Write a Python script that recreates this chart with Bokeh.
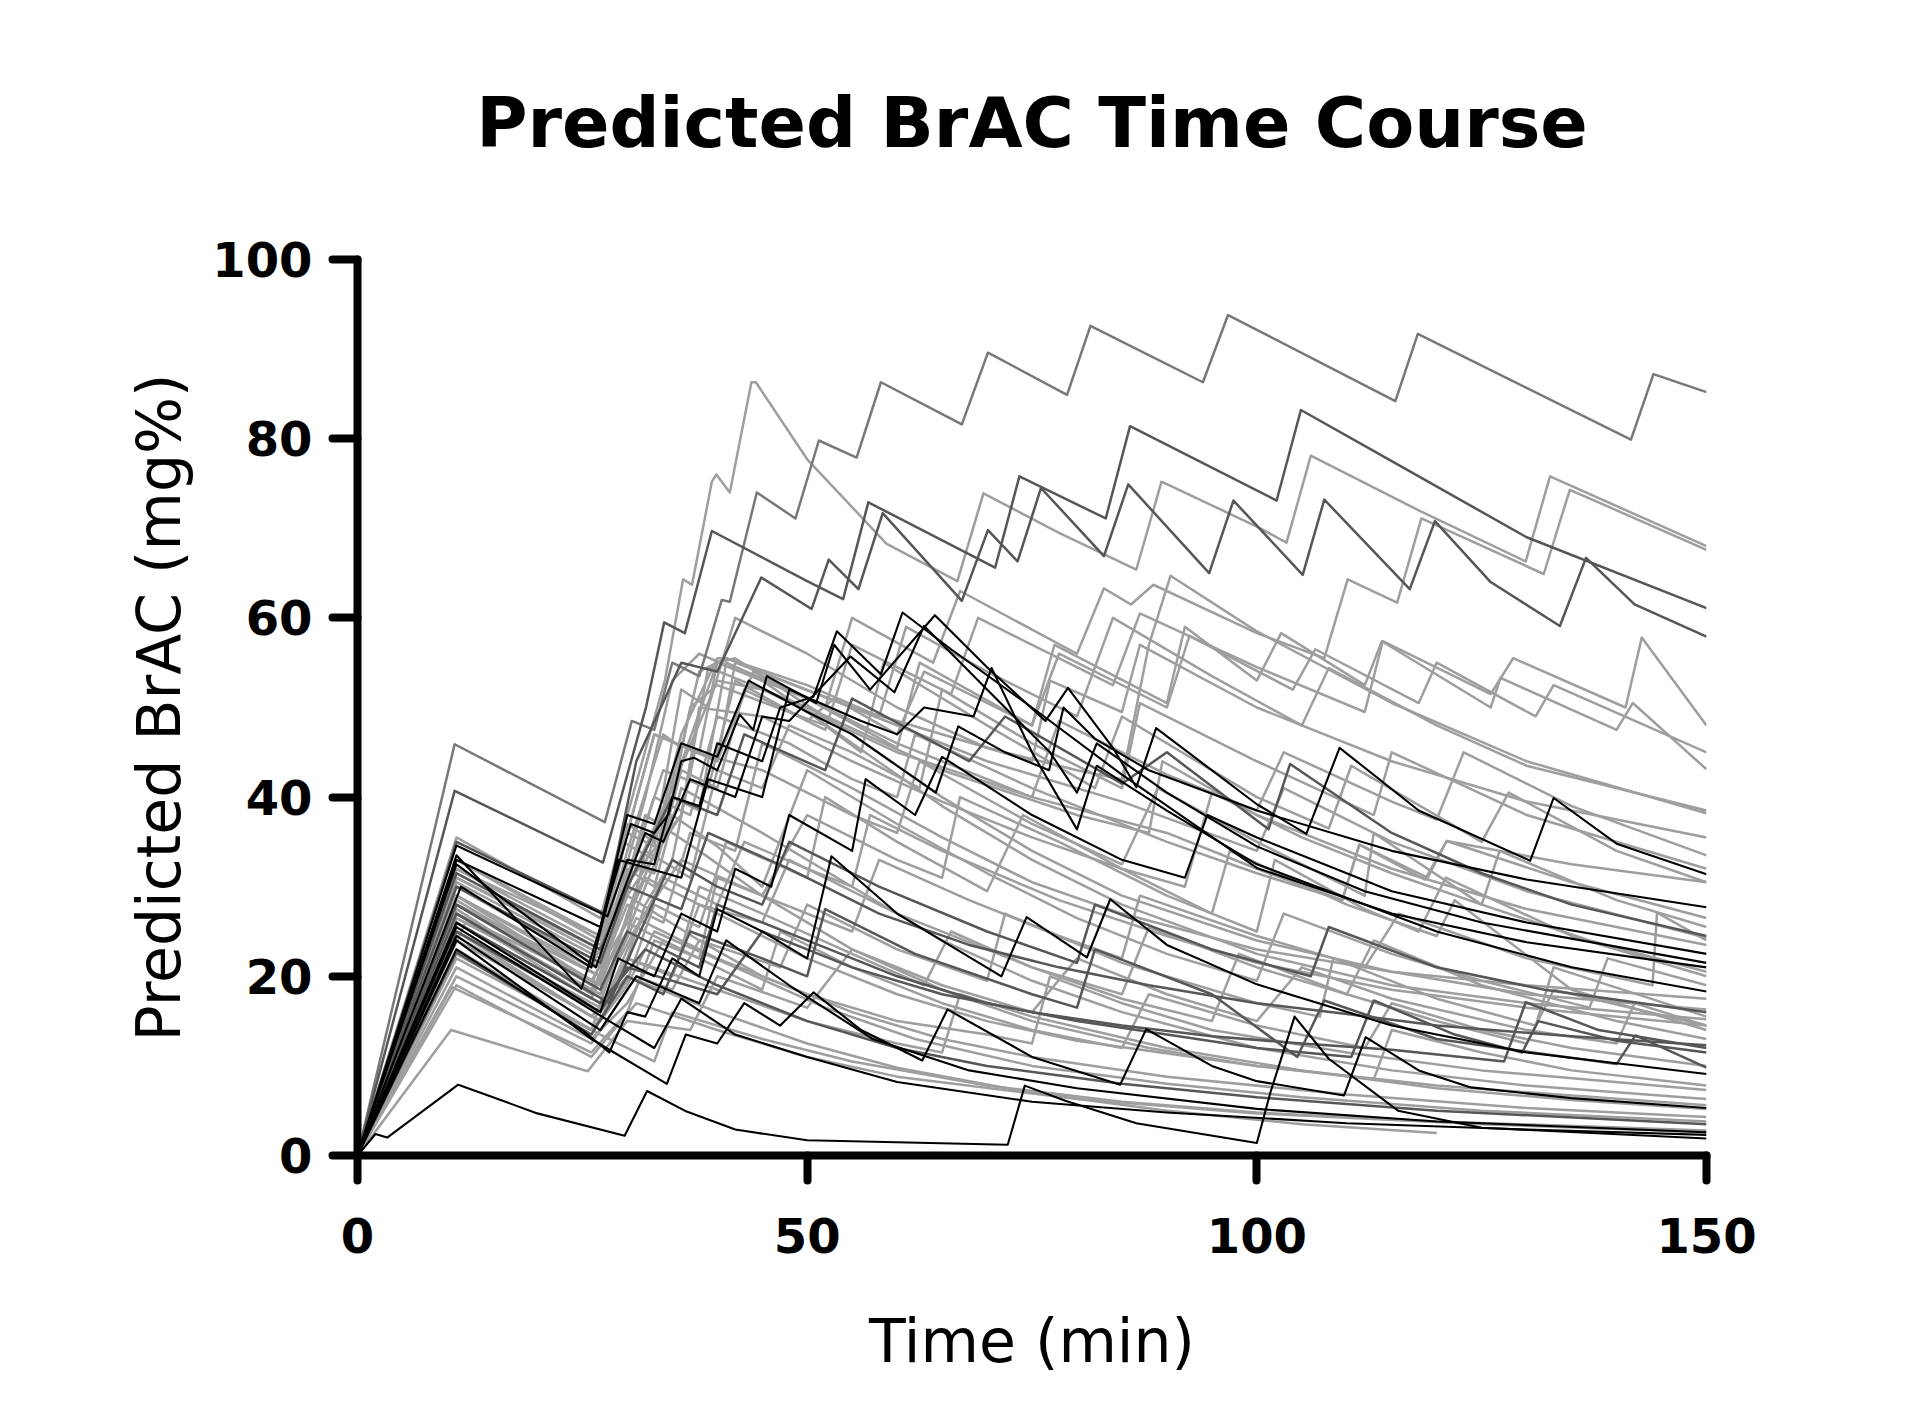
from bokeh.plotting import figure
from bokeh.models import Range1d, FixedTicker, LinearAxis
from bokeh.embed import file_html
from bokeh.resources import INLINE

# ---- data: predicted BrAC (mg%) per subject, as (time min, value) points ----
# light grey subjects
L01 = [(0,0),(11,35.5),(27,26.5),(30,38),(34.2,53.1),(36.2,64.3),(37.2,63.7),(39.4,75.2),(39.9,76.0),(41.4,74.0),(43.8,86.3),(44.3,86.3),(50,77.7),(58.8,68.3),(66.7,64.1),(69.6,73.9),(78,69.5),(86.6,65.4),(89.4,75.2),(100,70.2),(103.3,68.4),(106,78.1),(118,72),(129.9,66.3),(132.6,75.8),(150,68.0)]
L02 = [(0,0),(11,31),(27,23),(30,36),(33,47),(40,44),(44,54),(52,50),(55,60),(64,55),(67,63),(80,56),(83,63.3),(86,61.5),(88.5,63.7),(100,58.3),(107.5,55.5),(110.1,64.3),(115.6,61.7),(118.3,71.1),(131.9,64.9),(134.8,74.3),(150,67.6)]
L03 = [(0,0),(11,30),(26,21.5),(29,33),(33,31.5),(36,43),(40,41),(43,52),(52,47.5),(55,57),(66,51.5),(69,60),(84,52.5),(87,60.5),(100,54.5),(112,49.5),(114,57.4),(126,51.5),(128.5,55.5),(141,50),(142.8,57.8),(150,48)]
L04 = [(0,0),(11,28),(27,20),(30,31),(34,43),(39,41),(42,53),(50,48.5),(53,51),(60,47),(63,54),(75,48),(78,56),(90,50),(92.5,58),(104,52),(106.5,56.5),(118,50.5),(120,55),(131,49),(133,52.5),(150,45)]
L05 = [(0,0),(11,29),(26,21),(30,30),(35,40),(38,38.5),(41,55),(50,51),(60,45.5),(62.5,55),(75,48),(77.5,57),(90,50.5),(92,59),(100,53),(102.7,58.3),(112,52.5),(113.9,57.4),(126,50),(127.1,53.3),(140,47.5),(141.8,50.5),(150,43.1)]
L06 = [(0,0),(11,32),(27,24.5),(30,36),(33,34.5),(36,47),(40,55.5),(41,55.5),(55,50),(70,45.5),(80,43),(85,42),(88,57),(90.4,64.7),(100,58.5),(115,50.5),(130,44),(150,38.2)]
L07 = [(0,0),(11,27),(27,19),(30,30),(35,41),(40,53),(45,52),(60,45),(75,40),(90,36),(100,32),(109.5,28.5),(111.4,34.7),(119,31),(121.1,35.1),(135,32.5),(150,30.5)]
L08 = [(0,0),(11,30.5),(27,22),(29.5,35),(33,33),(36,46),(40,44),(42,55),(55,50),(70,44),(85,39.5),(100,34),(103,41),(115,35),(130,29.5),(150,24.3)]
L09 = [(0,0),(11,28),(26,19),(30,29),(36,38),(39,54.5),(50,50),(65,43),(80,38),(88,36),(89.5,44),(100,38),(115,32),(130,27.5),(150,23.5)]
L10 = [(0,0),(12,26),(27,18),(30,25),(34,35),(37,50),(40,52.5),(52,48),(56,45),(58.5,55),(70,48),(82,41),(85,49),(100,40),(108,36.5),(110.5,43.5),(125,35),(128,40.5),(140,34),(150,30.5)]
L11 = [(0,0),(11,25),(27,16.5),(30,22),(32,28),(35,33),(37.5,45),(45,43),(55,38),(60,36),(62.5,44),(75,37),(85,32.5),(89,41),(100,35),(112,29),(113,36),(125,28),(137,24),(150,20.5)]
L12 = [(0,0),(11,22),(26,14),(30,19.5),(33,28),(38,25.5),(41,35),(50,31),(52,40),(60,35),(70,29.5),(74,38),(85,32),(95,27),(100,25),(102,33),(112,27.5),(118,25),(121,31),(135,24.5),(150,20)]
L13 = [(0,0),(11,29),(27,20),(30.5,31),(36,38),(38,50),(45,49),(55,44),(65,39.5),(75,35.5),(85,32),(92,30),(95,40.5),(105,35.5),(115,31.5),(125,28),(127,34),(140,28.5),(150,25.5)]
L14 = [(0,0),(11,27.5),(26,18),(30,28),(34,26),(37,36),(42,34),(45,46),(55,41),(65,35.5),(75,30.5),(85,27),(100,23),(115,20.5),(130,19),(150,17.5)]
L15 = [(0,0),(11,26),(27,17),(30,27),(35,41),(40,55),(42,55.5),(55,47),(65,40),(75,34),(85,29),(100,24),(115,20.5),(130,18),(150,16.3)]
L16 = [(0,0),(11,31),(27,22.5),(29,29),(32,40),(35,53),(38,56),(45,53),(55,46),(65,39),(75,33),(85,28),(100,22.5),(115,19),(130,17),(150,15.2)]
L17 = [(0,0),(10.5,18.8),(26,11.5),(30,16),(33,24),(38,22),(40,31),(45,29),(50,38),(60,33),(65,31),(67,40),(78,35),(90,29),(95,27),(97,34),(110,28),(120,24.5),(122,28.5),(135,18.5),(150,14)]
L18 = [(0,0),(11,24),(27,15),(30,22),(35,20),(38,28),(45,26),(48,33),(60,27),(75,21),(85,18),(88,25.5),(100,21),(110,18),(113,24),(125,19),(140,15),(150,13)]
L19 = [(0,0),(10.4,14),(25.6,9.4),(30,15),(37,14),(40,20),(50,16.5),(55,23),(65,19),(75,16),(80,22),(90,18),(100,15),(105,21),(115,17.5),(130,14),(140,12.5),(142,17),(150,14.5)]
L20 = [(0,0),(11,20),(26,12.5),(31,20),(35,18.5),(38,24),(47,21),(50,28),(60,23),(70,19.5),(72,27),(85,21.5),(100,17),(107,15.5),(108.5,22),(120,17.5),(131,14.5),(133,21),(150,15.5)]
L21 = [(0,0),(11,28),(27,19),(30,32),(33,30),(36,41),(45,36),(55,30),(65,24),(75,19.5),(85,16),(100,12),(115,9.5),(130,7.8),(150,6.3)]
L22 = [(0,0),(11,30),(27,21),(30,29),(38,24),(45,20),(55,16),(65,13),(75,11),(90,8.8),(110,6.8),(130,5.3),(150,4.3)]
L23 = [(0,0),(11,27),(26,17.5),(29,24),(32,31),(40,27),(50,22),(60,18),(70,15),(80,12.8),(100,10),(120,7.8),(150,5.6)]
L24 = [(0,0),(11,23),(26,14),(28,20),(31,26.5),(40,22),(50,18),(60,15),(70,13.5),(75,12.5),(77,20),(85,17),(95,14),(110,11.5),(125,9.5),(150,7.3)]
L25 = [(0,0),(11,32),(27,23.5),(30,31),(32,38),(38,34),(45,29),(55,23),(65,18.5),(75,15),(88,12),(100,10),(113,8.5),(115,14),(125,11.5),(135,9.5),(150,7.8)]
L26 = [(0,0),(11,26),(27,16),(30,22),(40,18.5),(50,15),(60,12.5),(65,11.5),(67,18),(75,15.5),(90,12),(105,9.5),(120,7.5),(135,6.2),(150,5.2)]
L27 = [(0,0),(11,29),(26,19.5),(30,26),(36,23),(38,30),(45,27),(55,22.5),(63,19),(66,25),(75,21),(85,17.5),(95,15),(98,22.5),(110,18),(120,15),(130,12.5),(133,18.5),(150,14.5)]
L28 = [(0,0),(11,21),(26,13),(30,17),(34,24),(40,21),(45,18.5),(47,25),(55,21),(65,17),(75,14),(85,12),(88,18),(100,14.5),(112,12),(115,17),(125,14),(135,12),(150,10)]
L29 = [(0,0),(11,25),(26,15.5),(30,20),(40,16),(50,12.5),(60,9.8),(75,7),(90,5),(105,3.5),(120,2.5)]
L30 = [(0,0),(11,22.5),(27,13.5),(33,10.5),(35,16),(45,13),(55,10.5),(70,7.8),(85,6),(100,4.8),(120,3.8),(150,2.8)]
L31 = [(0,0),(11,19),(26,11),(31,17),(40,14),(50,11),(60,8.8),(80,6.3),(100,4.7),(125,3.5),(150,2.6)]
L32 = [(0,0),(11,24.5),(27,15),(30,19),(33,25),(42,21),(52,16.5),(62,13),(75,10),(90,8),(105,6.5),(125,5),(150,3.8)]
L33 = [(0,0),(11,28.5),(27,19),(30.5,28),(35,38),(40,34.5),(45,30),(50,43),(60,37),(70,31.5),(80,26.5),(90,22.5),(100,19.5),(103,27),(115,22.5),(125,19.5),(137,16.5),(139,22),(150,19)]
L34 = [(0,0),(11,33),(27,24.5),(30,37),(33,35),(36,52),(39,50),(42,60),(50,56),(60,50),(70,45.5),(75,44),(77,53),(85,49.5),(87,57),(100,50),(115,44),(130,39.5),(150,35.5)]
L35 = [(0,0),(11,31.5),(27,23),(30,34),(34,47),(36,45.5),(38,54),(41,55.5),(50,52.5),(58,49),(61,59),(70,54),(80,49),(84,60),(95,53.5),(105,48),(108,54.4),(120,48),(130,43.5),(150,38.5)]
L36 = [(0,0),(11,27),(26,18.5),(30,25),(32,34),(37,31),(40,43),(45,41),(48,48),(55,45),(62.5,41),(65,52),(75,46),(85,41),(87,50.5),(100,44),(113,38),(115,45),(130,38),(150,32)]
L37 = [(0,0),(11,28),(27,20),(29,27),(33,40),(37,38),(40,49),(48,46),(55,42),(60,40),(62,47),(75,41),(90,35),(100,31.5),(109.5,28.5),(111.4,34.7),(118.7,30.8),(121.1,35.1),(135,30.5),(150,26.5)]
L38 = [(0,0),(11,26.5),(27,18),(31,25.5),(36,33),(45,29),(55,25),(58,33),(68,28.5),(78,24.5),(85,22),(87,29),(100,24.5),(112,21),(115.8,27),(130,22),(144,19),(144.5,27.1),(150,24)]
L39 = [(0,0),(11,33),(27,24),(30,36),(33,47),(38,45),(40,55),(50,51),(60,46),(70,42),(75,40),(78,48.5),(90,42.5),(100,38.5),(103,45),(115,39.5),(120,37.5),(123,45),(135,39),(150,33.5)]
L40 = [(0,0),(11,25),(27,16),(30,23),(34,31),(40,28),(43,35),(50,32),(55,30),(57,38),(65,34),(78,28.5),(90,24.5),(100,21.5),(115,18.5),(130,16.5),(150,14.5)]

# mid grey subject (highest curve)
M01 = [(0,0),(10.8,45.9),(27.5,37.2),(30.5,48.5),(33,47.5),(35,55),(38,53.5),(40.5,62.0),(41.4,61.8),(44.4,74.0),(48.7,71.1),(51.3,79.8),(55.5,77.9),(58.2,86.3),(67.2,81.6),(70.1,89.6),(78.9,84.9),(81.5,92.6),(94.0,86.3),(96.8,93.8),(115.4,84.2),(117.9,91.7),(141.6,79.9),(144.1,87.2),(150,85.2)]

# dark grey subjects
D01 = [(0,0),(10.8,40.7),(27.3,32.7),(32.1,50.1),(34.1,59.5),(36.4,58.3),(39.4,69.7),(50,64.1),(54,62.1),(56.8,72.9),(70.9,65.6),(73.6,75.8),(83.2,71.1),(85.9,81.4),(102.2,73.1),(104.9,83.2),(115,77.5),(130,69),(150,61.1)]
D02 = [(0,0),(11,35),(27.5,27),(31,44),(36,55),(40,54),(44.9,64.5),(50.5,61),(52.4,66.5),(55.7,63.2),(58.4,71.7),(67.2,61.9),(70.1,69.8),(73.4,66.3),(76,74.5),(83,66.9),(85.7,74.9),(94.7,65.0),(97.4,73.1),(105.1,64.8),(107.5,73.2),(117,63.2),(119.8,70.8),(126,64),(133.7,59.1),(136.6,66.7),(142,61.5),(150,57.9)]
D03 = [(0,0),(11,30),(27,21.5),(30,30),(35,40),(40,38),(43,47),(52,43),(55,51),(68,44),(72,49),(85,41.5),(90,45),(101.3,36.4),(103.7,43.7),(115,36),(125,31.5),(135,28),(150,24.5)]
D04 = [(0,0),(11,22.7),(26,13.5),(30,20),(34,18),(37,25),(45,22),(50,20),(52,27.5),(62,22.5),(75,18),(80,16.5),(82,23),(95,18),(104.5,11),(107.5,17.3),(120,13),(140,10.2),(142.1,13.4),(150,9.8)]
D05 = [(0,0),(11,28),(27,18.5),(30,25),(38,21),(40,28),(50,24),(60,20),(70,17),(80,15),(90,13.5),(100,12),(110.5,11),(113,17.3),(122,13.5),(129.5,11.5),(131.3,15.0),(140,12.8),(150,11.5)]
D06 = [(0,0),(11,25),(27,16),(30,21),(40,18),(45,25),(55,21),(65,18),(75,16),(85,14.5),(95,13.3),(105,12.5),(115,11.8),(127.5,10.5),(129.9,17.1),(138,14),(150,12)]
D07 = [(0,0),(11,26),(27,17),(32,23),(40,19),(50,15),(60,12),(70,10),(85,8),(100,6.5),(120,5),(150,3.5)]
D08 = [(0,0),(11,31.5),(27,23),(30,30),(36,27.5),(39,36),(48,32),(58,27),(68,23.5),(78,21),(88,19),(100,17),(110,15.8),(120,14.5),(135,13.3),(150,12.3)]
D09 = [(0,0),(11,27),(28,17),(31,24),(35,33),(40,30),(45,28),(48,35),(58,30),(70,25),(80,21.5),(82,28),(95,23),(106,20),(108,25.5),(120,21),(132,18.5),(150,16)]

# black subjects
K00 = [(0,0),(2,2.4),(3.3,2.0),(11.2,7.9),(20,4.7),(29.7,2.2),(32.2,7.2),(36.6,4.9),(42,2.9),(50,1.7),(72.3,1.2),(74.2,7.8),(78.7,6.1),(86.6,3.6),(100,1.4),(101.5,7),(104.2,15.5),(108,10.8),(115.7,5.0),(125,3.1),(150,1.9)]
K01 = [(0,0),(11,33.5),(24.9,18.6),(27,25.5),(30.4,37),(33,36),(34.6,38.1),(36,44),(37.4,44.4),(40,43),(42.5,49.2),(44,47.5),(45.5,53.5),(51,50.5),(53,57),(57,52),(64.2,60.3),(70,54.5),(76.5,48.5),(79,52.2),(84,45.5),(86.6,41.1),(88.8,47.7),(100,39.2),(105.5,35.9),(109.2,45.5),(118,38.5),(130.4,32.9),(133,39.9),(140,34.8),(150,31.4)]
K02 = [(0,0),(11,34.6),(27.8,26.7),(30,33),(33,32.5),(35,40),(38,39),(40,46),(45,44),(47,50),(50.7,51.2),(53.3,58.5),(58.2,53.7),(60.6,60.6),(66,56.5),(75,50),(85,42.5),(100,32.1),(115,27),(130,23.8),(150,21.0)]
K03 = [(0,0),(11,32.5),(26.5,21),(29,28),(32,36),(34,35),(37,42),(42,40),(45,49),(48,48.5),(54.8,55.7),(59.7,51.7),(63,59.1),(70,52),(77,45),(80,40.5),(82.2,46),(90,40.5),(100,34.5),(112,29.5),(125,26),(150,21.5)]
K04 = [(0,0),(11,33),(27,25.5),(30,38),(33,37),(36,46),(40,44.5),(43.5,53),(50,49.5),(55,47),(60,43.5),(64.3,40.5),(66.8,47.9),(72,45),(76.9,43),(78.5,50),(82,46.5),(88,43),(100,38.5),(115,34),(130,30.8),(150,27.7)]
K05 = [(0,0),(11.5,30),(26,21),(29,33),(36,31),(39,42),(45,40),(48,52),(56,48.5),(60,47),(63,50),(68.5,49),(70.5,54.4),(75,45),(80,36.4),(82.2,43.5),(90,38.5),(100,32.5),(120,25),(135,21),(150,18.3)]
K06 = [(0,0),(11,23),(25,14),(28,11.5),(30,16),(32,15.5),(35,22),(38,20),(40,27.5),(45,25),(50,22),(52.7,33.4),(60,27),(71.6,20.0),(74.4,26.6),(81.1,22.1),(83.7,28.6),(90,23.5),(100,19.1),(115,14.5),(130,11.5),(150,9.1)]
K07 = [(0,0),(11,24),(26,13),(34.4,8),(36.5,13.5),(40,12.5),(43,17),(47,14.5),(50.7,18.2),(56,14),(62.8,10.6),(65.6,16.3),(75,11),(84.8,7.9),(87.7,14.1),(95,10),(100,8.3),(109.7,6.7),(112.1,13.2),(118,9.5),(123.8,7.6),(135,6.4),(150,5.3)]
K08 = [(0,0),(11,25.5),(28,15),(33,12),(36,17.5),(42,13.5),(50,11),(60,8.2),(75,6),(90,4.8),(110,3.6),(130,2.9),(150,2.3)]
K09 = [(0,0),(11,24.5),(27,14),(31,20),(38,17),(41,24),(48,19),(57.3,13),(68,9.5),(80,7.5),(100,5.2),(120,3.8),(150,2.6)]
K10 = [(0,0),(11,26),(27,16),(29,22),(33,20),(36,27),(40,25),(42,32),(46,30),(48,38),(55,34),(56.5,42),(62,38),(65,44.5),(75,38),(85,33),(92,31),(94.5,38),(100,35.5),(115,29.5),(130,26),(150,22.5)]

light_subjects = [L01,L02,L03,L04,L05,L06,L07,L08,L09,L10,L11,L12,L13,L14,L15,L16,L17,L18,L19,L20,
                  L21,L22,L23,L24,L25,L26,L27,L28,L29,L30,L31,L32,L33,L34,L35,L36,L37,L38,L39,L40]
mid_subjects = [M01]
dark_subjects = [D01,D02,D03,D04,D05,D06,D07,D08,D09]
black_subjects = [K00,K01,K02,K03,K04,K05,K06,K07,K08,K09,K10]

x_ticks = [0, 50, 100, 150]
y_ticks = [0, 20, 40, 60, 80, 100]

TITLE = "Predicted BrAC Time Course"
X_LABEL = "Time (min)"
Y_LABEL = "Predicted BrAC (mg%)"

# ---- figure ----
W, H = 1900, 1400
p = figure(width=W, height=H, output_backend="svg", toolbar_location=None,
           x_range=Range1d(0, 150), y_range=Range1d(0, 100),
           min_border_left=357, min_border_right=194, min_border_top=259, min_border_bottom=245)
p.outline_line_color = None
p.background_fill_color = "white"
p.border_fill_color = "white"
p.grid.visible = False

def add_group(subjects, color, width):
    for s in subjects:
        xs = [pt[0] for pt in s]
        ys = [pt[1] for pt in s]
        p.line(xs, ys, line_color=color, line_width=width, line_join="round")

add_group(light_subjects, "#9e9e9e", 2.5)
add_group(mid_subjects, "#787878", 2.5)
add_group(dark_subjects, "#565656", 2.5)
add_group(black_subjects, "#000000", 2.1)

x_axis = p.below[0]
y_axis = p.left[0]

for ax in (x_axis, y_axis):
    ax.axis_line_width = 8
    ax.axis_line_cap = "round"
    ax.major_tick_line_width = 8
    ax.major_tick_line_cap = "round"
    ax.major_tick_out = 25
    ax.major_tick_in = 0
    ax.minor_tick_line_color = None
    ax.major_label_text_font = "DejaVu Sans"
    ax.major_label_text_font_style = "bold"
    ax.major_label_text_font_size = "48px"
    ax.major_label_text_color = "black"
    ax.axis_label_text_font = "DejaVu Sans"
    ax.axis_label_text_font_style = "normal"
    ax.axis_label_text_font_size = "60px"
    ax.axis_label_text_color = "black"

x_axis.ticker = FixedTicker(ticks=x_ticks)
y_axis.ticker = FixedTicker(ticks=y_ticks)
x_axis.axis_label = X_LABEL
y_axis.axis_label = Y_LABEL
x_axis.major_label_standoff = 37
y_axis.major_label_standoff = 20
x_axis.axis_label_standoff = 50
y_axis.axis_label_standoff = 15

# title: carried by an invisible axis above the frame, so its height can be set exactly
title_axis = LinearAxis(ticker=FixedTicker(ticks=[]), axis_label=TITLE,
                        axis_line_color=None, major_tick_line_color=None,
                        minor_tick_line_color=None, major_label_text_font_size="0px",
                        axis_label_text_font="DejaVu Sans", axis_label_text_font_style="bold",
                        axis_label_text_font_size="70px", axis_label_text_color="black",
                        axis_label_standoff=96)
p.add_layout(title_axis, "above")

open("out.html", "w").write(file_html(p, INLINE))
